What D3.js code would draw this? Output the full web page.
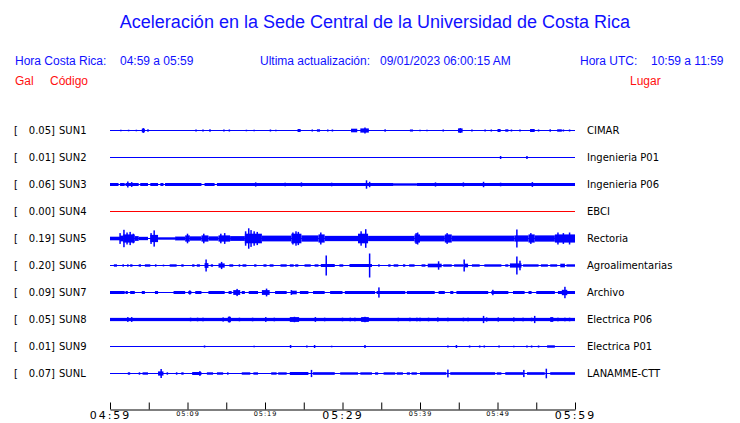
<!DOCTYPE html>
<html>
<head>
<meta charset="utf-8">
<script src="https://cdn.jsdelivr.net/npm/d3@7"></script>
<style>
  body { margin: 0; background: #fff; }
  svg { display: block; }
  .hdr { font-family: "Liberation Sans", Arial, sans-serif; font-size: 12px; }
  .lbl { font-family: "DejaVu Sans", sans-serif; font-size: 10px; fill: #000; }
</style>
</head>
<body>
<div id="chart"></div>
<script>
var w = 740;
var h = 423;

// stations (top to bottom)
var codes  = ["SUN1", "SUN2", "SUN3", "SUN4", "SUN5", "SUN6", "SUN7", "SUN8", "SUN9", "SUNL"];
var places = ["CIMAR", "Ingenieria P01", "Ingenieria P06", "EBCI", "Rectoria",
              "Agroalimentarias", "Archivo", "Electrica P06", "Electrica P01", "LANAMME-CTT"];
var peaks  = [0.05, 0.01, 0.06, 0.00, 0.19, 0.20, 0.09, 0.05, 0.01, 0.07];

// x axis: minutes after 04:59
var tickMinutes = d3.range(0, 61, 5);
var tickLabels  = ["04:59", "", "05:09", "", "05:19", "", "05:29", "", "05:39", "", "05:49", "", "05:59"];
var bigLabels   = ["04:59", "05:29", "05:59"];

// envelope segments per station: [start min, end min, half amplitude (gal)]
var bands = [
  [[4.1,4.5,0.03],[4.8,5.0,0.02],[12.8,13.0,0.02],[24.2,24.6,0.025],[26.7,27.1,0.02],[31.1,31.9,0.03],
   [32.3,33.4,0.035],[35.4,35.6,0.02],[38.7,39.1,0.017],[42.9,43.1,0.017],[44.9,45.5,0.035],[50.0,50.4,0.025],
   [51.0,51.4,0.02],[54.2,54.8,0.025],[56.7,56.9,0.02],[57.7,58.3,0.02]],
  [],
  [[0,1.1,0.025],[1.3,1.9,0.025],[2.0,3.7,0.025],[3.9,4.9,0.025],[5.2,6.2,0.025],[6.5,6.9,0.025],
   [7.1,11.8,0.025],[12.2,13.5,0.025],[13.8,36.6,0.025],[36.6,39.6,0.02],[39.6,60,0.025]],
  [],
  [[0,1.3,0.03],[1.3,1.7,0.048],[1.7,3.2,0.068],[3.2,3.7,0.04],[3.7,4.9,0.028],[5.2,6.2,0.06],[6.2,8.4,0.02],
   [8.4,9.7,0.032],[9.7,10.3,0.052],[10.3,11.8,0.036],[11.8,12.7,0.052],[12.7,14.0,0.036],[14.0,15.5,0.052],
   [15.5,17.4,0.04],[17.4,19.6,0.08],[19.6,23.4,0.048],[23.4,24.7,0.08],[24.7,26.9,0.052],[26.9,27.7,0.068],
   [27.7,32.0,0.044],[32.0,33.3,0.08],[33.3,39.3,0.044],[39.3,40.0,0.068],[40.0,43.2,0.048],[43.2,44.1,0.068],
   [44.1,52.2,0.048],[52.2,54.0,0.052],[54.0,54.8,0.068],[54.8,57.4,0.052],[57.4,60,0.068]],
  [[0.5,0.9,0.02],[1.6,1.8,0.02],[2.2,2.4,0.02],[2.6,2.9,0.02],[3.7,4.0,0.02],[4.5,5.2,0.02],[5.8,6.0,0.02],
   [7.7,8.6,0.02],[9.2,9.5,0.02],[10.6,10.9,0.02],[11.2,11.6,0.02],[12.2,12.7,0.04],[13.0,13.3,0.02],
   [14.0,14.8,0.035],[15.4,15.9,0.02],[16.6,16.8,0.02],[17.1,17.6,0.02],[18.6,18.9,0.02],[19.8,20.2,0.02],
   [20.6,21.1,0.02],[22.0,22.8,0.02],[23.2,23.7,0.02],[23.9,24.3,0.02],[25.1,25.9,0.02],[26.4,26.9,0.02],
   [27.2,29.0,0.025],[29.6,30.1,0.02],[30.9,33.8,0.025],[34.6,34.8,0.02],[35.9,36.2,0.02],[36.6,37.2,0.02],
   [37.8,38.1,0.02],[38.6,39.3,0.02],[40.2,40.7,0.02],[41.0,42.8,0.03],[43.0,44.1,0.02],[44.4,45.6,0.02],
   [45.7,46.2,0.03],[46.7,47.7,0.02],[48.3,50.5,0.02],[51.0,51.4,0.02],[51.6,53.1,0.035],[53.3,55.3,0.02],
   [55.6,56.5,0.02],[56.8,57.7,0.02],[58.1,58.7,0.03],[58.9,60,0.02]],
  [[0,1.9,0.025],[2.0,2.3,0.025],[2.6,3.2,0.025],[4.1,4.5,0.025],[5.8,6.2,0.025],[8.2,9.7,0.025],
   [10.1,10.5,0.025],[11.0,11.8,0.025],[12.7,14.8,0.025],[15.3,15.7,0.025],[15.9,16.8,0.04],[17.0,17.4,0.025],
   [17.9,19.1,0.025],[19.6,20.6,0.04],[21.3,22.8,0.025],[23.4,24.1,0.03],[24.5,25.6,0.025],[26.2,27.7,0.025],
   [28.4,30.0,0.025],[30.3,34.2,0.025],[34.4,38.1,0.025],[38.3,41.9,0.025],[42.4,43.2,0.025],[43.9,44.3,0.025],
   [44.7,48.8,0.025],[49.2,51.4,0.025],[52.0,53.5,0.025],[54.0,54.4,0.025],[55.0,57.4,0.025],[57.8,60,0.025],
   [58.3,59.0,0.045]],
  [[0,60,0.027],[15.2,15.6,0.045],[23.2,24.4,0.04],[32.4,33.4,0.04],[56.8,57.2,0.04]],
  [[56.4,57.4,0.02]],
  [[2.3,2.6,0.02],[3.7,3.9,0.02],[4.2,4.9,0.02],[6.2,6.9,0.035],[7.3,7.5,0.02],[8.5,8.7,0.02],[9.2,9.5,0.02],
   [10.6,11.8,0.025],[12.5,13.3,0.02],[13.8,14.6,0.02],[15.1,15.3,0.02],[17.0,18.1,0.02],[18.5,19.1,0.02],
   [20.8,21.5,0.02],[21.7,22.8,0.02],[23.2,25.6,0.025],[26.2,29.0,0.022],[29.7,32.0,0.02],[32.3,33.8,0.02],
   [34.2,34.6,0.02],[35.3,36.8,0.02],[37.0,37.8,0.02],[38.3,38.7,0.02],[38.9,39.6,0.02],[40.0,43.4,0.022],
   [43.9,49.7,0.022],[49.9,50.5,0.02],[51.0,53.3,0.022],[53.8,56.1,0.022],[56.8,60,0.022]]
];

// single spikes per station: [minute, half amplitude (gal)]
var spikes = [
  [[1.4,0.013],[2.4,0.013],[3.4,0.013],[4.3,0.04],[11.1,0.017],[12.0,0.017],[14.7,0.017],[15.4,0.017],
   [17.6,0.013],[18.6,0.013],[20.7,0.017],[21.4,0.013],[26.1,0.017],[28.1,0.017],[28.7,0.017],[32.9,0.05],
   [40.0,0.013],[40.9,0.013],[45.2,0.04],[46.7,0.017],[48.4,0.017],[49.2,0.017],[51.8,0.017],[52.9,0.017],
   [55.3,0.017],[58.5,0.017],[59.3,0.017]],
  [[50.4,0.025],[53.8,0.025]],
  [[2.3,0.05],[2.8,0.04],[18.8,0.035],[22.6,0.03],[24.7,0.035],[28.6,0.03],[33.1,0.07],[33.5,0.045],
   [42.0,0.035],[45.6,0.035],[48.2,0.045],[50.4,0.03],[54.5,0.04]],
  [],
  [[1.3,0.09],[1.8,0.145],[2.2,0.1],[2.6,0.11],[3.0,0.08],[5.3,0.09],[5.7,0.135],[10.0,0.08],[12.1,0.08],
   [14.3,0.08],[14.8,0.09],[17.5,0.12],[17.9,0.17],[18.2,0.14],[18.6,0.12],[19.0,0.11],[23.6,0.1],[24.0,0.12],
   [24.3,0.11],[27.2,0.1],[32.4,0.12],[33.0,0.155],[39.5,0.09],[39.7,0.1],[43.5,0.09],[52.5,0.15],
   [54.3,0.09],[57.8,0.1],[58.5,0.09],[59.3,0.1]],
  [[6.9,0.015],[12.4,0.1],[14.4,0.06],[27.9,0.167],[33.5,0.2],[42.4,0.07],[45.7,0.1],[52.5,0.15],[52.9,0.08]],
  [[10.3,0.035],[16.4,0.06],[20.2,0.065],[23.4,0.04],[34.7,0.085],[49.4,0.045],[58.7,0.095]],
  [[2.3,0.04],[2.8,0.04],[5.4,0.025],[10.4,0.03],[11.3,0.03],[12.0,0.03],[14.6,0.035],[15.4,0.05],[16.7,0.03],
   [18.4,0.03],[20.1,0.04],[21.2,0.03],[23.8,0.045],[26.5,0.04],[27.7,0.03],[30.0,0.03],[31.0,0.03],[31.6,0.03],
   [32.9,0.045],[37.2,0.03],[38.7,0.03],[39.6,0.03],[40.0,0.03],[41.1,0.03],[42.3,0.035],[43.6,0.03],
   [45.6,0.03],[46.2,0.03],[48.2,0.06],[48.6,0.035],[50.1,0.035],[52.1,0.035],[53.3,0.03],[54.4,0.03],
   [54.8,0.06],[57.8,0.03],[58.7,0.03],[59.3,0.03]],
  [[12.2,0.017],[18.6,0.013],[23.3,0.025],[25.4,0.017],[26.4,0.025],[28.6,0.013],[32.9,0.025],[43.6,0.017],
   [44.7,0.025],[46.4,0.017],[47.7,0.017],[48.3,0.017],[50.2,0.017],[52.1,0.013],[53.8,0.017],[54.4,0.017],
   [55.3,0.017]],
  [[6.6,0.075],[11.6,0.04],[26.0,0.06],[43.6,0.065],[53.4,0.06],[56.3,0.08]]
];

var rowTop = 130.5;
var rowGap = 27;

var svg = d3.select("#chart")
            .append("svg")
            .attr("width", w)
            .attr("height", h);

// title + header
svg.append("text")
    .attr("x", 375).attr("y", 28)
    .attr("text-anchor", "middle")
    .style("font-family", "'Liberation Sans', Arial, sans-serif")
    .style("font-size", "18px")
    .style("fill", "#1010ff")
    .text("Aceleración en la Sede Central de la Universidad de Costa Rica");

var header = [
    {x: 15,  t: "Hora Costa Rica:"},
    {x: 120, t: "04:59 a 05:59"},
    {x: 260, t: "Ultima actualización:"},
    {x: 380, t: "09/01/2023 06:00:15 AM"},
    {x: 580, t: "Hora UTC:"},
    {x: 651, t: "10:59 a 11:59"}
];
svg.selectAll(".hdr-blue")
    .data(header)
    .enter()
    .append("text")
    .attr("class", "hdr")
    .attr("x", (d) => d.x)
    .attr("y", 65)
    .style("fill", "#1010ff")
    .text((d) => d.t);

svg.selectAll(".hdr-red")
    .data([{x: 15, t: "Gal"}, {x: 50, t: "Código"}, {x: 630, t: "Lugar"}])
    .enter()
    .append("text")
    .attr("class", "hdr")
    .attr("x", (d) => d.x)
    .attr("y", 85)
    .style("fill", "#ff1010")
    .text((d) => d.t);

// scales
var xScale = d3.scaleLinear()
    .domain([0, 60])
    .range([110, 575]);
var yAmp = d3.scaleLinear()
    .domain([-0.2, 0.2])
    .range([12, -12]);

// rows
codes.forEach(function(code, i) {
    var cy = rowTop + i * rowGap;
    var col = peaks[i] === 0 ? "#ff0000" : "#0000ff";
    var g = svg.append("g").attr("transform", "translate(0," + cy + ")");

    g.append("text").attr("class", "lbl").attr("x", 14).attr("y", 3.5).text("[");
    g.append("text").attr("class", "lbl").attr("x", 55).attr("y", 3.5)
        .attr("text-anchor", "end").text(peaks[i].toFixed(2) + "]");
    g.append("text").attr("class", "lbl").attr("x", 59).attr("y", 3.5).text(code);
    g.append("text").attr("class", "lbl").attr("x", 587).attr("y", 3.5).text(places[i]);

    g.selectAll(".band")
        .data(bands[i])
        .enter()
        .append("rect")
        .attr("x", (d) => xScale(d[0]))
        .attr("width", (d) => Math.max(1, xScale(d[1]) - xScale(d[0])))
        .attr("y", (d) => yAmp(d[2]))
        .attr("height", (d) => yAmp(-d[2]) - yAmp(d[2]))
        .style("fill", col);

    g.selectAll(".spike")
        .data(spikes[i])
        .enter()
        .append("rect")
        .attr("x", (d) => xScale(d[0]) - 0.75)
        .attr("width", 1.5)
        .attr("y", (d) => yAmp(d[1]))
        .attr("height", (d) => yAmp(-d[1]) - yAmp(d[1]))
        .style("fill", col);

    g.append("line")
        .attr("x1", xScale(0)).attr("x2", xScale(60))
        .attr("y1", 0).attr("y2", 0)
        .style("stroke", col)
        .style("stroke-width", 1);
});

// time axis
var xAxis = d3.axisBottom(xScale)
    .tickValues(tickMinutes)
    .tickSizeInner(-7)
    .tickSizeOuter(0)
    .tickPadding(2)
    .tickFormat((d, i) => tickLabels[i]);

var ax = svg.append("g")
    .attr("transform", "translate(0,409.5)")
    .call(xAxis);
ax.select(".domain").style("stroke", "#000");
ax.selectAll(".tick line").style("stroke", "#000");
ax.selectAll(".tick text")
    .attr("dy", "0.72em")
    .style("font-family", "'DejaVu Sans', sans-serif")
    .style("fill", "#000")
    .style("font-size", (d, i) => bigLabels.indexOf(tickLabels[i]) >= 0 ? "11px" : "6.5px")
    .style("letter-spacing", (d, i) => bigLabels.indexOf(tickLabels[i]) >= 0 ? "2px" : "1px");
</script>
</body>
</html>
